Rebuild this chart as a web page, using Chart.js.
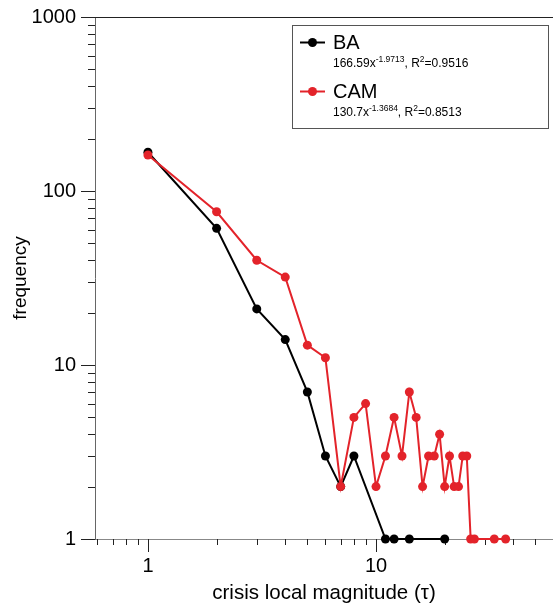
<!DOCTYPE html>
<html>
<head>
<meta charset="utf-8">
<script src="https://cdn.jsdelivr.net/npm/chart.js@4.4.1/dist/chart.umd.min.js"></script>
<style>
  html, body { margin: 0; padding: 0; background: #fff; }
  #wrap { width: 553px; height: 609px; }
</style>
</head>
<body>
<div id="wrap"><canvas id="c" width="553" height="609"></canvas></div>
<script>
// Crisis local magnitude (tau) vs frequency, log-log
const baTau   = [1, 2, 3, 4, 5, 6, 7, 8, 11, 12, 14, 20];
const baFreq  = [167, 61, 21, 14, 7, 3, 2, 3, 1, 1, 1, 1];
const camTau  = [1, 2, 3, 4, 5, 6, 7, 8, 9, 10, 11, 12, 13, 14, 15, 16, 17, 18, 19, 20,
                 21, 22, 23, 24, 25, 26, 27, 33, 37];
const camFreq = [161, 76, 40, 32, 13, 11, 2, 5, 6, 2, 3, 5, 3, 7, 5, 2, 3, 3, 4, 2,
                 3, 2, 2, 3, 3, 1, 1, 1, 1];

const seriesNames  = ['BA', 'CAM'];
const seriesColors = ['#000000', '#e3232a'];
const fitCoef = ['166.59', '130.7'];
const fitExp  = ['-1.9713', '-1.3684'];
const fitR2   = ['0.9516', '0.8513'];

const xTickValues  = [0.6, 0.7, 0.8, 0.9, 1, 2, 3, 4, 5, 6, 7, 8, 9, 10, 20, 30, 40, 50];
const xLabelValues = [1, 10];
const yTickValues  = [1, 2, 3, 4, 5, 6, 7, 8, 9, 10, 20, 30, 40, 50, 60, 70, 80, 90,
                      100, 200, 300, 400, 500, 600, 700, 800, 900, 1000];
const yLabelValues = [1, 10, 100, 1000];

const FONT = "'Liberation Sans', Arial, Helvetica, sans-serif";

const toPoints = (xs, ys) => xs.map((x, i) => ({ x: x, y: ys[i] }));

// Tick marks: long at decades, short elsewhere, drawn outside the axes
const tickMarks = {
  id: 'tickMarks',
  beforeDatasetsDraw(chart) {
    const { ctx, chartArea } = chart;
    const xs = chart.scales.x, ys = chart.scales.y;
    ctx.save();
    ctx.strokeStyle = '#222';
    ctx.lineWidth = 1;
    ctx.beginPath();
    // top frame line
    ctx.moveTo(chartArea.left, Math.round(chartArea.top) + 0.5);
    ctx.lineTo(chartArea.right, Math.round(chartArea.top) + 0.5);
    ys.ticks.forEach(t => {
      const py = Math.round(ys.getPixelForValue(t.value)) + 0.5;
      const len = yLabelValues.includes(t.value) ? 14 : 7;
      ctx.moveTo(chartArea.left - len, py);
      ctx.lineTo(chartArea.left, py);
    });
    xs.ticks.forEach(t => {
      const px = Math.round(xs.getPixelForValue(t.value)) + 0.5;
      const len = xLabelValues.includes(t.value) ? 13 : 6;
      ctx.moveTo(px, chartArea.bottom);
      ctx.lineTo(px, chartArea.bottom + len);
    });
    ctx.stroke();
    ctx.restore();
  }
};

// Boxed legend with fitted power laws
const fitLegend = {
  id: 'fitLegend',
  afterDraw(chart) {
    const ctx = chart.ctx;
    ctx.save();
    ctx.strokeStyle = '#555';
    ctx.lineWidth = 1;
    ctx.strokeRect(292.5, 25.5, 256, 103);
    seriesNames.forEach((name, i) => {
      const dy = i * 49;
      const my = 42.5 + dy;
      ctx.strokeStyle = seriesColors[i];
      ctx.lineWidth = 2;
      ctx.beginPath();
      ctx.moveTo(300, my);
      ctx.lineTo(325, my);
      ctx.stroke();
      ctx.fillStyle = seriesColors[i];
      ctx.beginPath();
      ctx.arc(312.5, my, 4.5, 0, Math.PI * 2);
      ctx.fill();

      ctx.fillStyle = '#000';
      ctx.textBaseline = 'alphabetic';
      ctx.textAlign = 'left';
      ctx.font = '20px ' + FONT;
      ctx.fillText(name, 333, 48.5 + dy);

      const base = 66.5 + dy;
      let x = 333;
      const big = '12px ' + FONT, small = '8.5px ' + FONT;
      const put = (txt, f, yy) => { ctx.font = f; ctx.fillText(txt, x, yy); x += ctx.measureText(txt).width; };
      put(fitCoef[i] + 'x', big, base);
      put(fitExp[i], small, base - 5);
      put(', R', big, base);
      put('2', small, base - 5);
      put('=' + fitR2[i], big, base);
    });
    ctx.restore();
  }
};

const datasetStyle = (i) => ({
  borderColor: seriesColors[i],
  backgroundColor: seriesColors[i],
  pointBackgroundColor: seriesColors[i],
  pointBorderColor: seriesColors[i],
  borderWidth: 2,
  pointRadius: 4.5,
  pointBorderWidth: 0,
  pointHoverRadius: 4.5,
  tension: 0,
  clip: false
});

new Chart(document.getElementById('c'), {
  type: 'line',
  data: {
    datasets: [
      Object.assign({ label: seriesNames[0], data: toPoints(baTau, baFreq), order: 1 }, datasetStyle(0)),
      Object.assign({ label: seriesNames[1], data: toPoints(camTau, camFreq), order: 0 }, datasetStyle(1))
    ]
  },
  options: {
    responsive: false,
    animation: false,
    devicePixelRatio: 1,
    layout: { autoPadding: false, padding: { top: 17, left: 0, right: 0, bottom: 0 } },
    plugins: { legend: { display: false }, tooltip: { enabled: false } },
    events: [],
    scales: {
      x: {
        type: 'logarithmic',
        position: 'bottom',
        min: 0.586,
        max: 59.7,
        afterFit: s => { s.height = 70; s.paddingLeft = 0; s.paddingRight = 0; },
        afterBuildTicks: s => { s.ticks = xTickValues.map(v => ({ value: v })); },
        grid: { display: false, drawTicks: false },
        border: { display: true, color: '#888', width: 1 },
        ticks: {
          autoSkip: false, maxRotation: 0, minRotation: 0, padding: 15,
          color: '#000', font: { family: FONT, size: 20 },
          callback: v => xLabelValues.includes(v) ? String(v) : ''
        },
        title: {
          display: true, text: 'crisis local magnitude (τ)', color: '#000',
          font: { family: FONT, size: 20.5 }, padding: { top: 0, bottom: 3 }
        }
      },
      y: {
        type: 'logarithmic',
        position: 'left',
        min: 1,
        max: 1000,
        afterFit: s => { s.width = 95; s.paddingTop = 0; s.paddingBottom = 0; },
        afterBuildTicks: s => { s.ticks = yTickValues.map(v => ({ value: v })); },
        grid: { display: false, drawTicks: false },
        border: { display: true, color: '#666', width: 1 },
        ticks: {
          autoSkip: false, padding: 19,
          color: '#000', font: { family: FONT, size: 20 },
          callback: v => yLabelValues.includes(v) ? String(v) : ''
        },
        title: {
          display: true, text: 'frequency', color: '#000',
          font: { family: FONT, size: 19 }, padding: { top: 9, bottom: 0 }
        }
      }
    }
  },
  plugins: [tickMarks, fitLegend]
});
</script>
</body>
</html>
